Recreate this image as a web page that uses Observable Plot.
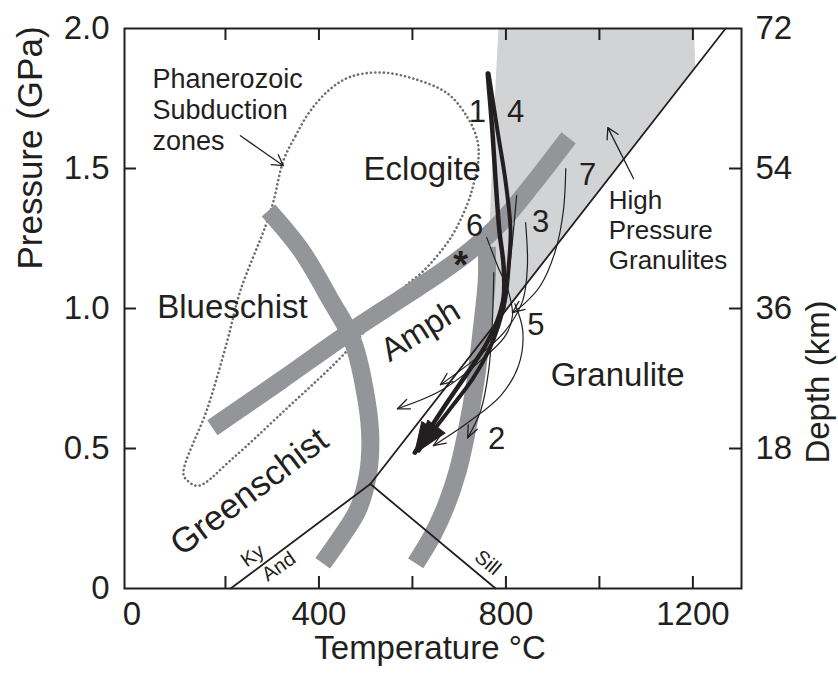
<!DOCTYPE html>
<html><head><meta charset="utf-8">
<script src="https://cdn.jsdelivr.net/npm/d3@7"></script>
<script src="https://cdn.jsdelivr.net/npm/@observablehq/plot@0.6"></script>
<style>body{margin:0;background:#fff}</style>
</head><body><div id="chart"></div>
<script>
// ---- axis ticks ----
const xTickLabels = [0, 400, 800, 1200];
const xTickMarks = [200, 400, 600, 800, 1000, 1200];
const pressureTicks = [0, 0.5, 1.0, 1.5, 2.0];
const depthTicks = [18, 36, 54, 72];
const innerTicksY = [0.5, 1.0, 1.5];

// ---- fields [T (°C), P (GPa)] ----
const hpGranulite = [[784,2.0],[1202,2.0],[1204,1.93],[1205,1.86],[741,0.867],[746,0.921],[754,1.028],[763,1.207],[769,1.457],[776,1.743]];
const bandGreenschist = [[292,1.35],[361,1.21],[425,1.03],[472,0.885],[502,0.67],[510,0.53],[504,0.40],[483,0.28],[450,0.19],[408,0.09]];
const bandAmph = [[759,1.22],[759,1.10],[748,0.92],[735,0.74],[716,0.56],[697,0.42],[673,0.30],[643,0.19],[607,0.09]];
const bandEclogite = [[172,0.574],[318,0.742],[461,0.91],[575,1.035],[660,1.128],[724,1.207],[789,1.307],[853,1.435],[934,1.61]];
const subductionZone = [[324,1.528],[350,1.617],[382,1.707],[425,1.785],[468,1.828],[532,1.843],[602,1.821],[675,1.768],[718,1.682],[739,1.6],[741,1.528],[731,1.446],[718,1.375],[682,1.253],[624,1.135],[581,1.074],[446,0.824],[333,0.646],[217,0.467],[142,0.367],[119,0.385],[110,0.41],[162,0.646],[204,0.885],[232,1.064],[286,1.296],[303,1.385]];
const kyAnd = [[211,0],[510,0.373]];
const andSill = [[510,0.373],[778,0]];
const kySill = [[510,0.373],[1270,2.0]];

// ---- P-T paths ----
const path1 = [[761,1.839],[771,1.635],[778,1.457],[786,1.278],[795,1.153],[795,1.039],[782,0.957],[756,0.867],[718,0.771],[677,0.671],[639,0.574],[605,0.485]];
const path4 = [[763,1.839],[782,1.635],[799,1.457],[810,1.278],[806,1.153],[799,1.039],[784,0.939],[763,0.849],[729,0.749],[686,0.653],[645,0.564],[613,0.492]];
const path2 = [[774,1.128],[771,0.957],[763,0.778],[746,0.635],[718,0.538]];
const path3 = [[842,1.307],[846,1.153],[836,1.028],[799,0.921],[735,0.821],[660,0.728]];
const path5 = [[819,1.017],[836,0.921],[827,0.796],[789,0.689],[724,0.599],[645,0.51]];
const path6 = [[759,1.253],[782,1.153],[806,1.057],[814,0.974],[799,0.903],[746,0.814],[660,0.706],[568,0.642]];
const path7 = [[928,1.5],[923,1.35],[906,1.207],[874,1.082],[842,1.021],[814,0.985]];
const pathU = [[823,1.403],[814,1.242],[806,1.117],[798,1.0]];

// ---- labels ----
const regionLabels = [
  {text:"Eclogite", t:621, p:1.495, r:0, s:33},
  {text:"Blueschist", t:215, p:1.005, r:0, s:33},
  {text:"Amph", t:617, p:0.921, r:-32, s:33},
  {text:"Granulite", t:1039, p:0.762, r:0, s:33},
  {text:"Greenschist", t:251, p:0.345, r:-37, s:35}
];
const pathLabels = [
  {text:"1", t:739, p:1.70}, {text:"4", t:821, p:1.70},
  {text:"6", t:733, p:1.296}, {text:"3", t:874, p:1.307},
  {text:"7", t:975, p:1.475}, {text:"5", t:864, p:0.942},
  {text:"2", t:780, p:0.535}
];
const mineralLabels = [
  {text:"Ky", t:258, p:0.117, r:-35},
  {text:"And", t:314, p:0.078, r:-35},
  {text:"Sill", t:761, p:0.092, r:40}
];
const noteLabels = [
  {text:"Phanerozoic\nSubduction\nzones", t:44, p:1.868, size:27},
  {text:"High\nPressure\nGranulites", t:1020, p:1.432, size:26}
];
const noteArrows = [
  {t1:232, p1:1.617, t2:324, p2:1.51},
  {t1:1073, p1:1.464, t2:1018, p2:1.646}
];
const starPoint = [{t:703, p:1.151}];

// ---- layout ----
const W = 838, H = 679, mL = 124, mR = 97, mT = 28, mB = 91;
const xDomain = [-16, 1304], yDomain = [0, 2];
const kx = (W - mL - mR) / (xDomain[1] - xDomain[0]);
const ky = (H - mT - mB) / (yDomain[1] - yDomain[0]);
const INK = "#231f20", BAND = "#939598", LIGHT = "#d1d3d4";

function headOf(path) {
  const a = path[path.length - 2], b = path[path.length - 1];
  const dx = (b[0] - a[0]) * kx, dy = -(b[1] - a[1]) * ky;
  return {t: b[0], p: b[1], angle: Math.atan2(dx, -dy) * 180 / Math.PI};
}
const vShape = {draw(ctx, l) { const w = l * 0.42; ctx.moveTo(-w, l); ctx.lineTo(0, 0); ctx.lineTo(w, l); }};
const triShape = {draw(ctx, l) { const w = l * 0.36; ctx.moveTo(-w, l); ctx.lineTo(0, 0); ctx.lineTo(w, l); ctx.closePath(); }};

const thinPaths = [path2, path3, path5, path6, path7];
const X = d => d[0], Y = d => d[1];

const chart = Plot.plot({
  width: W, height: H,
  marginLeft: mL, marginRight: mR, marginTop: mT, marginBottom: mB,
  x: {domain: xDomain},
  y: {domain: yDomain},
  style: {fontFamily: "'Liberation Sans', Arial, Helvetica, sans-serif", fontSize: "33px", color: INK, background: "#fff"},
  marks: [
    Plot.line(hpGranulite, {x: X, y: Y, fill: LIGHT, stroke: "none", curve: "linear-closed"}),
    Plot.line(subductionZone, {x: X, y: Y, stroke: "#6d6e71", strokeWidth: 2.6, strokeDasharray: "0.1 4.2", strokeLinecap: "round", curve: "catmull-rom-closed"}),
    Plot.line(bandGreenschist, {x: X, y: Y, stroke: BAND, strokeWidth: 18, strokeLinecap: "butt", curve: "catmull-rom"}),
    Plot.line(bandAmph, {x: X, y: Y, stroke: BAND, strokeWidth: 18, strokeLinecap: "butt", curve: "catmull-rom"}),
    Plot.line(bandEclogite, {x: X, y: Y, stroke: BAND, strokeWidth: 18, strokeLinecap: "butt", curve: "catmull-rom"}),
    Plot.line(kyAnd, {x: X, y: Y, stroke: INK, strokeWidth: 1.8}),
    Plot.line(andSill, {x: X, y: Y, stroke: INK, strokeWidth: 1.8}),
    Plot.line(kySill, {x: X, y: Y, stroke: INK, strokeWidth: 1.8}),
    ...thinPaths.map(p => Plot.line(p, {x: X, y: Y, stroke: INK, strokeWidth: 1.2, curve: "catmull-rom"})),
    Plot.line(pathU, {x: X, y: Y, stroke: INK, strokeWidth: 1.2, curve: "catmull-rom"}),
    Plot.vector(thinPaths.map(headOf), {x: "t", y: "p", rotate: "angle", length: 12, shape: vShape, anchor: "start", stroke: INK, strokeWidth: 1.3}),
    Plot.line(path1, {x: X, y: Y, stroke: INK, strokeWidth: 4.5, curve: "catmull-rom"}),
    Plot.line(path4, {x: X, y: Y, stroke: INK, strokeWidth: 4, curve: "catmull-rom"}),
    Plot.vector([path1, path4].map(headOf), {x: "t", y: "p", rotate: "angle", length: 30, shape: triShape, anchor: "start", fill: INK, stroke: INK, strokeWidth: 1}),
    Plot.arrow(noteArrows, {x1: "t1", y1: "p1", x2: "t2", y2: "p2", stroke: INK, strokeWidth: 1.3, headLength: 14}),
    Plot.text(regionLabels, {x: "t", y: "p", text: "text", rotate: "r", fontSize: d => d.s, fill: INK}),
    Plot.text(pathLabels, {x: "t", y: "p", text: "text", fontSize: 31, fill: INK}),
    Plot.text(mineralLabels, {x: "t", y: "p", text: "text", rotate: "r", fontSize: 20, fill: INK}),
    Plot.text(noteLabels, {x: "t", y: "p", text: "text", fontSize: d => d.size, lineHeight: 1.15, textAnchor: "start", lineAnchor: "top", fill: INK}),
    Plot.text(starPoint, {x: "t", y: "p", text: () => "*", fontSize: 38, fontWeight: "bold", fill: INK}),
    // axes
    Plot.frame({stroke: INK, strokeWidth: 2}),
    Plot.ruleX(xTickMarks, {insetTop: (H - mT - mB) - 12, stroke: INK, strokeWidth: 2}),
    Plot.ruleX(xTickMarks, {insetBottom: (H - mT - mB) - 12, stroke: INK, strokeWidth: 2}),
    Plot.ruleY(innerTicksY, {insetRight: (W - mL - mR) - 12, stroke: INK, strokeWidth: 2}),
    Plot.ruleY(innerTicksY, {insetLeft: (W - mL - mR) - 12, stroke: INK, strokeWidth: 2}),
    Plot.axisX({ticks: xTickLabels, tickSize: 0, tickPadding: 13, fontSize: 33, label: null, tickFormat: d => String(d)}),
    Plot.axisY({ticks: pressureTicks, tickSize: 0, tickPadding: 15, fontSize: 33, label: null, tickFormat: d => d === 0 ? "0" : d.toFixed(1)}),
    Plot.axisY({anchor: "right", ticks: depthTicks.map(d => d / 36), tickSize: 0, tickPadding: 14, fontSize: 33, label: null, tickFormat: p => String(Math.round(p * 36))}),
    Plot.text([{label: "Temperature °C"}], {text: "label", frameAnchor: "bottom", dy: 70, dx: -3, fontSize: 33, fill: INK}),
    Plot.text([{label: "Pressure (GPa)", p: 1.139}], {text: "label", y: "p", frameAnchor: "left", dx: -94, rotate: -90, fontSize: 35, fill: INK}),
    Plot.text([{label: "Depth (km)", p: 1.029}], {text: "label", y: "p", frameAnchor: "right", dx: 77, rotate: -90, fontSize: 33, fill: INK})
  ]
});
document.getElementById("chart").appendChild(chart);
</script>
</body></html>
